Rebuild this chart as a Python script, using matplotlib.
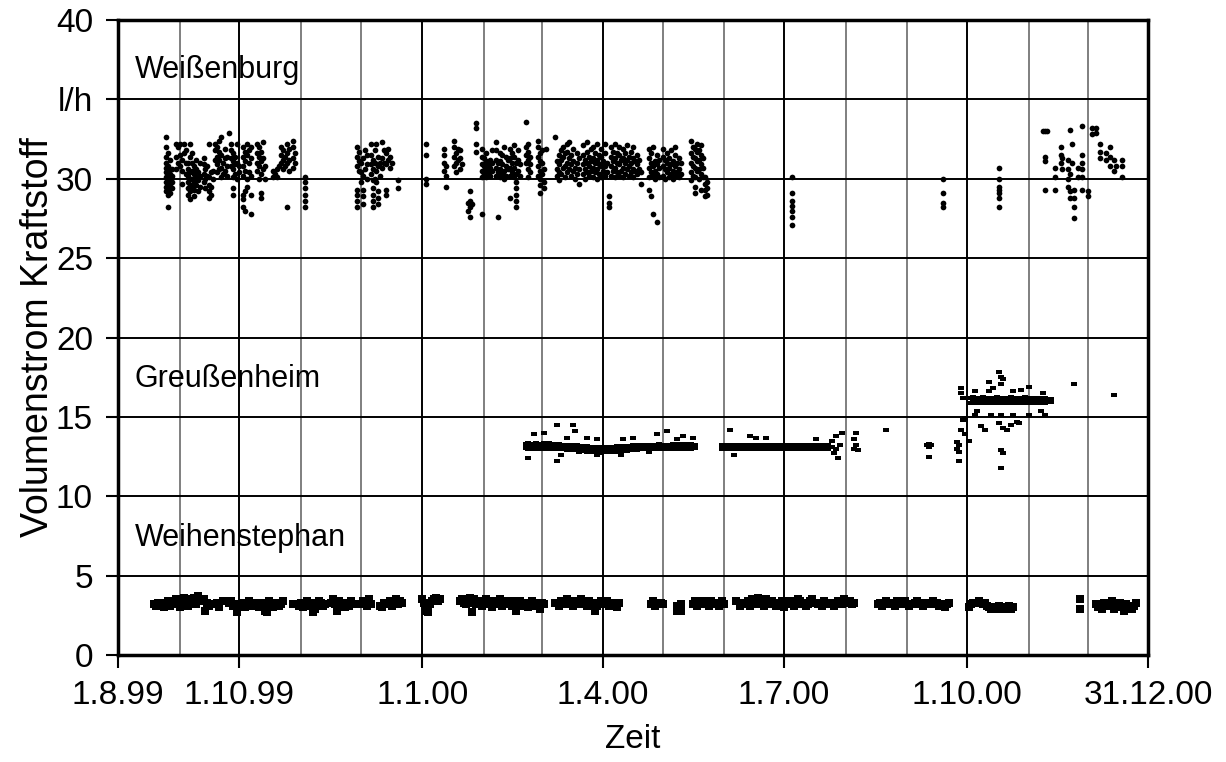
import numpy as np
import matplotlib
matplotlib.use("Agg")
import matplotlib.pyplot as plt

plt.rcParams['font.family'] = ['Liberation Sans', 'DejaVu Sans']

START = np.datetime64('1999-08-01')

# Weißenburg: (days since 1.8.99, fuel flow readings in l/h)
weissenburg_cols = [
    (24, [29.2, 29.5, 29.8, 30.1, 30.4, 30.7, 31.0, 31.4, 32.0, 32.6]),
    (25, [28.2, 29.0, 29.3, 29.6, 29.9, 30.2, 30.5, 30.8, 31.6]),
    (26, [29.1, 29.4, 29.7, 30.0, 30.3, 30.6, 31.2]),
    (27, [29.4, 29.8, 30.2, 30.6]),
    (29, [30.6, 31.4, 32.2]), (30, [31.0, 32.0]), (31, [30.8, 31.5, 32.2]),
    (32, [29.7, 30.5, 31.2]), (33, [31.6, 32.2]), (34, [30.3, 31.0, 31.8]),
    (35, [29.0, 29.4, 29.8, 30.2, 30.6, 31.0]),
    (36, [28.7, 29.2, 29.6, 30.0, 30.4, 31.4, 32.2]),
    (37, [29.5, 30.0, 30.5, 31.0, 31.6]), (38, [28.9, 29.3, 29.8, 30.3, 30.8]),
    (39, [29.6, 30.1, 30.6, 31.2]), (40, [29.2, 29.9, 30.4]), (41, [29.5, 30.2, 31.0]),
    (43, [29.8, 30.3, 30.9, 31.3]), (44, [29.4, 30.0, 30.6]), (45, [30.2, 30.8]),
    (46, [28.8, 29.2, 29.6, 30.1, 32.2]), (47, [29.0, 29.5, 30.4]), (48, [30.0, 30.5]),
    (49, [31.2, 31.8, 32.2]), (50, [30.4, 30.9, 31.4, 32.0]), (51, [30.6, 31.2, 31.7, 32.4]),
    (52, [30.1, 30.7, 31.5, 32.6]), (53, [30.3, 31.0]), (54, [30.5, 31.3, 31.9]),
    (55, [30.2, 30.8, 31.4]), (56, [32.9]),
    (57, [30.8, 31.3, 31.8, 32.2]), (58, [29.0, 29.4, 30.1, 30.6, 31.1, 31.6]),
    (59, [30.3, 30.9, 31.4]), (60, [30.0, 31.0, 32.2]), (61, [30.4, 30.8]),
    (63, [28.2, 28.7, 29.0, 30.2, 30.8, 31.4, 32.0]), (64, [28.0, 29.2, 30.5, 31.1, 31.7]),
    (65, [29.5, 30.0, 31.5, 32.2]), (66, [30.4, 31.0, 31.8]), (67, [27.8, 29.0, 30.2, 31.3, 32.0]),
    (70, [30.5, 31.0, 31.6, 32.2]), (71, [30.0, 30.8, 31.4, 32.0]),
    (72, [28.8, 29.1, 30.3, 31.1, 31.7]), (73, [30.6, 31.3, 32.3]), (74, [30.0, 30.8]),
    (78, [30.1, 30.5]), (79, [30.3]), (80, [30.1, 30.6]), (81, [30.8]),
    (82, [31.0, 31.5, 32.0]), (83, [30.6, 31.2, 31.8]), (84, [30.8, 31.4]),
    (85, [28.2, 31.0, 31.6, 32.2]), (86, [30.5, 31.2, 31.9]),
    (88, [30.7, 31.3, 32.0, 32.4]), (89, [31.0, 31.6]),
    (94, [28.2, 28.6, 29.0, 29.4, 29.8, 30.1]),
    (120, [28.2, 28.6, 29.0, 29.3, 30.8, 31.4, 32.0]), (121, [30.5, 31.1, 31.7]),
    (122, [29.8, 30.4, 31.0]), (123, [28.4, 28.9, 29.3, 30.2, 31.3]), (124, [30.6, 31.8]),
    (125, [30.0, 30.9, 31.5]),
    (127, [30.3, 30.9, 31.5, 32.2]), (128, [28.2, 28.6, 29.0, 29.4, 29.9, 30.6, 31.2]),
    (129, [30.0, 31.0, 31.8]), (130, [29.8, 30.5, 32.2]), (131, [28.4, 28.8, 29.2, 30.8, 31.4]),
    (132, [30.2, 31.0]),
    (133, [30.7, 31.3, 32.3]), (134, [31.0, 31.8]), (135, [29.0, 29.3, 30.9, 31.6]),
    (136, [31.2, 31.9]), (137, [30.7, 31.4]), (138, [31.0]), (141, [29.4, 29.9]),
    (155, [29.7, 30.0, 31.5, 32.2]),
    (164, [30.5, 31.0, 31.5, 31.9]), (165, [29.5, 30.2, 30.8]),
    (169, [30.8, 31.4, 32.0, 32.4]), (170, [30.4, 31.0, 31.6]), (171, [31.2, 31.9]),
    (172, [30.6, 31.3, 31.8]), (173, [30.9]),
    (176, [28.0, 28.5]), (177, [27.6, 28.2, 28.6, 29.2]), (178, [28.4]),
    (180, [31.7, 32.2, 33.2, 33.5]),
    (183, [27.8, 30.1, 30.5, 30.9, 31.4, 31.9]), (184, [30.3, 30.8, 31.3]),
    (185, [30.1, 30.6, 31.1, 31.6]), (186, [30.4, 30.9]), (187, [30.2, 30.7, 31.2]),
    (188, [30.5, 31.0, 31.8]),
    (190, [30.2, 30.7, 31.2, 31.8, 32.3]), (191, [27.6, 30.4, 31.0]),
    (192, [30.1, 30.6, 31.1, 31.6]), (193, [30.3, 30.9, 31.5]), (194, [30.0, 30.5, 32.0]),
    (195, [30.2, 30.8, 31.4]), (196, [30.6, 31.2]),
    (197, [28.8, 30.2, 30.7, 31.3, 31.9]), (198, [30.4, 31.0, 31.6]),
    (199, [30.1, 30.7, 31.4, 32.1]), (200, [28.2, 28.6, 29.0, 29.4, 29.8, 30.3, 31.0]),
    (201, [30.5, 31.2, 31.8]), (202, [30.2, 30.9]),
    (205, [31.0, 31.5, 32.0, 33.6]), (206, [30.1, 30.6, 31.2, 31.7, 32.2]),
    (207, [30.4, 30.9, 31.4]),
    (211, [30.2, 30.8, 31.4, 32.0, 32.4]), (212, [29.1, 29.6, 30.0, 30.5, 31.1, 31.6]),
    (213, [30.3, 31.0, 31.8]), (214, [29.4, 29.8, 30.6]), (215, [31.9]), (220, [32.6]),
    (221, [30.2, 30.6, 31.1]), (222, [29.9, 30.4, 30.9, 31.5]), (223, [30.3, 31.2, 31.8]),
    (224, [30.7, 31.4, 32.0]), (225, [30.1, 30.8, 31.6]), (226, [30.4, 31.0, 31.7, 32.2]),
    (227, [30.6, 31.3, 32.3]), (228, [30.2, 30.9, 31.5]), (229, [30.5, 31.1, 31.9]),
    (230, [30.0, 30.7]), (231, [30.3, 31.0, 31.6]), (232, [29.7, 30.6, 31.3]),
    (234, [30.3, 30.9, 31.5, 32.1]), (235, [30.0, 30.6, 31.2]), (236, [30.4, 31.0, 31.7, 32.3]),
    (237, [30.2, 30.8, 31.4]), (238, [30.5, 31.1, 31.9]), (239, [30.1, 30.7, 31.3, 32.0]),
    (240, [30.4, 31.0, 31.6]), (241, [30.0, 30.6, 31.2, 32.2]), (242, [30.3, 30.9, 31.5]),
    (243, [30.1, 30.8, 31.4, 31.9]), (244, [30.5, 31.1]), (245, [30.2, 30.8, 31.6, 32.2]),
    (246, [30.4, 31.0]), (247, [28.2, 28.5, 28.9]),
    (248, [30.2, 30.8, 31.4, 32.0]), (249, [30.5, 31.1, 31.7]), (250, [30.1, 30.7, 31.3, 32.2]),
    (251, [30.4, 31.0, 31.6]), (252, [30.2, 30.9, 31.5, 32.0]), (253, [30.5, 31.2]),
    (254, [30.1, 30.7, 31.3, 31.9]), (255, [30.3, 31.0, 31.6]), (256, [30.6, 31.2, 32.1]),
    (257, [30.2, 30.8, 31.4]), (258, [30.4, 31.0, 31.7]), (259, [30.1, 30.6, 31.3, 32.0]),
    (260, [30.5, 31.1]), (261, [30.3, 30.9, 31.5]), (262, [30.6, 31.2]), (263, [29.7, 30.4]),
    (267, [29.3, 30.1, 30.7, 31.3, 31.9]), (268, [28.9, 30.4, 31.0, 31.6]),
    (269, [27.8, 30.2, 30.8, 32.0]), (270, [30.0, 30.5, 31.1]), (271, [27.3, 30.3, 30.9, 31.5]),
    (272, [30.1, 30.7, 31.2]),
    (274, [30.2, 30.8, 31.4, 31.9]), (275, [30.0, 30.6, 31.2]), (276, [30.4, 31.0, 31.6]),
    (277, [30.1, 30.7, 31.3]), (278, [30.3, 30.9, 31.8]), (279, [30.0, 30.5, 31.1]),
    (280, [30.2, 30.8, 31.5, 32.0]), (281, [30.4, 31.0]), (282, [30.1, 30.6, 31.3]),
    (283, [30.3, 31.0]),
    (288, [29.9, 30.4, 31.0, 31.6, 32.4]), (289, [30.2, 30.8, 31.4, 32.0]),
    (290, [29.1, 29.5, 30.1, 30.7, 31.3, 31.9]), (291, [30.5, 31.1, 31.7, 32.2]),
    (292, [30.0, 30.6, 31.2, 31.8]), (293, [29.3, 30.3, 30.9, 31.5, 32.1]),
    (294, [30.1, 30.7, 31.3]), (295, [28.9, 29.3, 29.7, 30.1]), (296, [29.0, 29.4, 29.8]),
    (339, [27.1, 27.6, 28.0, 28.3, 28.6, 29.1, 30.1]),
    (415, [28.2, 28.5, 29.1, 30.0]),
    (443, [28.2, 28.8, 29.1, 29.3, 29.5, 30.0, 30.7]),
    (465, [33.0]), (466, [33.0, 31.4, 31.1, 29.3]), (467, [33.0]),
    (471, [30.7, 30.1, 29.3]), (474, [32.0, 31.5, 31.0]), (475, [30.6, 31.3]),
    (478, [31.2, 30.6, 30.0, 29.5]), (479, [33.1, 30.3, 29.2, 28.8]), (480, [32.2, 31.0]),
    (481, [29.3, 28.8, 28.2, 27.5]), (483, [30.7, 30.1]),
    (485, [33.3, 31.5, 31.0, 30.6, 30.1, 29.3]), (488, [29.2, 28.9]),
    (490, [33.2, 32.8]), (492, [33.2, 32.9]), (494, [32.2, 31.7, 31.3]),
    (497, [31.6, 31.2]), (499, [32.0, 31.4, 30.8]), (501, [31.2, 30.5]), (502, [30.8]),
    (505, [31.2, 30.8, 30.1]),
]

# Greußenheim: daily upper / lower readings of the dense band, plus single readings
greussenheim_upper = [
    (205, [13.3, 13.35, 13.3, 13.25, 13.3, 13.35, 13.3, 13.25, 13.3, 13.35,
           13.25, 13.3, 13.35, 13.3, 13.25, 13.3, 13.25, 13.3, 13.25, 13.2,
           13.25, 13.2, 13.15, 13.2, 13.2, 13.15, 13.2, 13.15, 13.1, 13.15,
           13.1, 13.15, 13.05, 13.1, 13.1, 13.05, 13.05, 13.1, 13.05, 13.05,
           13.1, 13.05, 13.1, 13.1, 13.05, 13.1, 13.15, 13.1, 13.1, 13.15,
           13.1, 13.15, 13.1, 13.15, 13.2, 13.15, 13.2, 13.2, 13.25, 13.2,
           13.2, 13.25, 13.2, 13.2, 13.25, 13.2, 13.25, 13.3, 13.2, 13.25,
           13.25, 13.2, 13.25, 13.25, 13.3, 13.25, 13.3, 13.2, 13.25, 13.3,
           13.25, 13.3, 13.25, 13.3, 13.25, 13.2]),
    (304, [13.2, 13.15, 13.2, 13.2, 13.15, 13.25, 13.2, 13.15, 13.2, 13.2,
           13.15, 13.2, 13.25, 13.2, 13.15, 13.2, 13.2, 13.15, 13.2, 13.15,
           13.2, 13.15, 13.2, 13.2, 13.15, 13.2, None, 13.2, 13.25, 13.2,
           13.15, 13.2, 13.2, 13.15, 13.2, 13.25, 13.2, 13.15, 13.2, 13.2,
           13.25, 13.2, 13.15, 13.2, 13.25, 13.2, 13.2, 13.15, 13.2, 13.25,
           13.2, 13.15, 13.2, 13.2]),
    (429, [16.2, 16.25, 16.2, 16.2, 16.15, 16.2, 16.25, 16.2, 16.15, 16.2,
           16.2, 16.15, 16.2, 16.25, 16.2, 16.15, 16.2, 16.2, 16.15, 16.2,
           16.25, 16.2, 16.15, 16.2, 16.2, 16.15, 16.2, 16.25, 16.2, 16.15,
           16.2, 16.15, 16.2, 16.2, 16.15, 16.2, 16.15, 16.2, 16.15, 16.1,
           16.1]),
]
greussenheim_lower = [
    (205, [13.05, 13.0, 13.05, 13.1, 13.0, 13.05, 13.0, 13.05, 12.95, 13.05,
           13.0, 13.05, 13.0, 12.95, 13.05, 13.0, 13.0, 12.95, 13.0, 12.95,
           12.95, 12.9, 12.95, 12.9, 12.95, 12.9, 12.9, 12.95, 12.85, 12.85,
           12.85, 12.8, 12.85, 12.8, 12.8, 12.85, 12.8, 12.8, 12.75, 12.85,
           12.8, 12.85, 12.8, 12.85, 12.85, 12.8, 12.85, 12.9, 12.85, 12.85,
           12.9, 12.85, 12.9, 12.9, 12.95, 12.9, 12.9, 12.95, 12.95, 13.0,
           12.95, 13.0, 12.95, 12.95, 13.0, 12.95, 13.0, 12.95, 13.0, 13.0,
           12.95, 13.0, 13.0, 12.95, 13.05, 13.05, 13.0, 12.95, 13.0, 13.05,
           13.05, 13.0, 12.95, 13.0, 13.05, 13.05]),
    (304, [12.95, 13.0, 12.95, 13.0, 12.95, 13.0, 13.0, 12.95, 13.0, 12.95,
           13.0, 12.95, 13.0, 13.0, 12.95, 13.0, 12.95, 13.0, 13.0, 12.95,
           13.0, 12.95, 13.0, 12.95, 13.0, 13.0, None, 13.0, 12.95, 13.0,
           13.0, 12.95, 13.0, 13.0, 12.95, 13.0, 12.95, 13.0, 13.0, 12.95,
           13.0, 13.0, 12.95, 13.0, 12.95, 13.0, 13.0, 12.95, 13.0, 13.0,
           12.95, 13.0, 13.0, 12.95]),
    (429, [15.9, 15.95, 15.9, 15.95, 15.95, 15.9, 15.95, 15.9, 15.95, 15.95,
           15.9, 15.95, 15.95, 15.9, 15.95, 15.9, 15.95, 15.95, 15.9, 15.95,
           15.95, 15.9, 15.95, 15.9, 15.95, 15.95, 15.9, 15.95, 15.9, 15.95,
           15.95, 15.9, 15.95, 15.9, 15.95, 15.9, 15.95, 15.9, 15.95, 15.95,
           15.95]),
]
greussenheim_single = [
    (206, 12.4), (209, 13.9), (214, 14.0), (221, 14.5), (229, 14.5), (230, 14.1),
    (221, 12.2), (223, 12.6), (226, 13.7), (232, 12.8), (236, 13.7), (241, 13.6),
    (241, 12.6), (254, 13.6), (259, 13.7), (253, 12.6), (267, 12.8), (271, 13.9),
    (276, 14.1), (281, 13.6), (284, 13.8), (289, 13.7),
    (308, 14.2), (310, 12.6), (318, 13.8), (321, 13.7), (326, 13.7), (351, 13.6),
    (359, 13.5), (359, 13.1), (360, 12.7), (361, 13.8), (361, 13.0), (362, 12.4),
    (363, 13.2), (364, 14.0), (370, 13.6), (370, 13.0), (371, 14.0), (371, 13.2),
    (372, 12.9), (386, 14.2),
    (407, 13.2), (408, 13.1), (408, 13.3), (409, 13.2), (408, 12.5),
    (422, 13.4), (422, 13.0), (423, 13.2), (423, 12.8), (423, 12.2), (424, 14.2),
    (424, 16.8), (424, 16.5), (425, 16.2), (425, 14.8), (426, 14.9), (426, 13.9),
    (428, 13.5),
    (443, 17.8), (444, 17.5), (444, 17.1), (445, 17.4), (438, 17.2), (440, 16.8),
    (431, 16.6), (438, 16.6), (450, 16.6), (454, 16.7), (458, 16.9), (465, 16.5),
    (432, 15.4), (431, 15.1), (439, 15.1), (444, 15.1), (450, 15.1),
    (434, 14.4), (436, 14.2), (443, 14.6), (445, 14.3), (447, 14.2), (449, 14.5),
    (452, 14.7), (453, 14.6), (444, 12.9), (445, 12.7), (444, 11.8),
    (466, 15.1), (464, 15.4), (458, 15.1), (481, 17.1), (501, 16.4),
]

# Weihenstephan: daily readings per measuring period (None = no reading)
weihenstephan_runs = [
    (18, [3.2, 3.1, 3.3, None, 3.2, 3.0, 3.3, 3.4, 3.1, None, 3.2, 3.5, 3.3, 3.0,
          3.2, 3.6, 3.4, 3.1, 3.3, 3.5, 3.6, 3.2, None, None, 3.4, 3.5, None, 3.3,
          3.1, None, None, 3.2, 3.3, 3.0, None, 3.4]),
    (56, [3.3, 3.4, 3.1, 3.2, 2.9]),
    (62, [3.1, 3.3, 3.0, 3.2, 3.4, 3.1, None, 3.3, 3.2, 3.0, 3.1, 3.3, 2.8, 3.2,
          3.4, 3.1, 3.0, 3.2, 3.3, 3.1, 3.2, 3.4]),
    (88, [3.2, None, None, 3.1, 3.3, 3.0, 3.2, 3.4, 3.1, 3.2, 3.3, 2.9, 3.2, 3.4,
          3.3, 3.1, 3.2, None, None, 3.3, 3.5, 3.2, 3.1, 3.4, None, 3.3, 3.0, 3.2,
          3.1, 3.4, 3.2]),
    (122, [3.2, 3.4, 3.3, 3.1, 3.5, 3.2]),
    (132, [3.1, 3.0, 3.3, None, 3.2, 3.4, 3.1, 3.3, 3.5, 3.2, 3.4, 3.3]),
    (153, [3.5, 3.3, 3.0, 2.7, 3.2, 3.4, 3.5, 3.6, 3.4, 3.5]),
    (172, [3.4, 3.5, 3.3, 3.2, 3.4, 3.6, 3.3, 3.5, 3.2, 3.4, 3.3, 3.1, 3.4, 3.5,
           3.2, 3.3, 3.0, 3.4, 3.2, 3.3, 3.5, 3.1, 3.3, 3.4, 3.2, 3.3, 3.1, 3.4,
           3.2, 3.3, 3.4, 3.2, 3.1, 3.3, 3.0, 3.2, 3.4, 3.1, 3.3, 3.2, 2.9, 3.3, 3.2]),
    (220, [3.3, None, 3.1, 3.4, 3.2, 3.3, 3.5, 3.2, 3.4, 3.1, 3.3, 3.2, 3.4, 3.5,
           3.3, 3.2, 3.1, 3.4, 3.3, 3.2, 3.3, 3.1, None, 3.4, 3.3, 3.2, 3.4, 3.1,
           3.3, None, 3.2, 3.0, 3.3]),
    (268, [3.2, 3.4, 3.1, None, None, 3.3, 3.2]),
    (281, [3.1]),
    (289, [3.2, 3.4, 3.1, 3.3, None, 3.4, 3.2, 3.3, 3.1, 3.4, 3.2, 3.3, None, 3.1,
           3.3, 3.4, 3.2]),
    (311, [3.4, None, 3.1, 3.3, None, 3.2, 3.4, 3.1, 3.5, 3.3, 3.2, 3.6, 3.4, 3.3,
           3.1, 3.5, 3.2, 3.3, 3.4, 3.2, 3.1, 3.3, 3.2, 3.4, 3.0, 3.2, 3.3, 3.4,
           3.2, 3.1, 3.3, 3.5, 3.4, 3.2, 3.3, 3.1, 3.2, 3.4, 3.5, 3.3]),
    (352, [3.2, 3.3, 3.1, 3.4, None, 3.2, 3.3, None, 3.1, 3.2, 3.4, 3.3, 3.2, 3.5,
           3.3, None, 3.4, 3.2, 3.3]),
    (382, [3.2, 3.3, 3.1, None, 3.4, 3.2, 3.3, None, 3.3, 3.1, 3.4, 3.2, None, 3.3,
           3.4, 3.2, 3.1, None, 3.2, 3.3, 3.4, 3.2, None, 3.1, 3.3, 3.2, None, None,
           3.4, 3.2, 3.3, 3.1, None, 3.2, 3.0, 3.2, 3.3]),
    (428, [3.0, 3.2, 3.3, None, None, 3.4, 3.3, 3.2, 3.3, 3.1, 3.0, 2.9, 3.0, 2.9,
           3.0, 3.1, 2.9, 3.0, 2.9, 3.0, 3.1, 2.9, 3.0]),
    (492, [3.2, 3.0, None, 2.9, 3.3, 3.1, None, 3.2, 3.4, 2.9, 3.0, None, 3.3, 3.1,
           2.8, 3.2, None, 3.0, 2.9, 3.1, 3.3]),
]
weihenstephan_single = [
    (40, 3.7), (44, 2.8), (60, 2.7), (75, 2.7), (98, 2.7), (110, 2.8), (155, 2.8),
    (178, 2.7), (200, 2.8), (240, 2.8), (484, 3.5), (484, 2.9), (281, 2.8),
    (283, 3.2), (283, 2.8),
]

site_names = ['Weißenburg', 'Greußenheim', 'Weihenstephan']
x_tick_dates = ['1999-08-01', '1999-10-01', '2000-01-01', '2000-04-01',
                '2000-07-01', '2000-10-01', '2000-12-31']
x_tick_labels = ['1.8.99', '1.10.99', '1.1.00', '1.4.00', '1.7.00', '1.10.00', '31.12.00']
y_ticks = [0, 5, 10, 15, 20, 25, 30, 35, 40]
y_tick_labels = ['0', '5', '10', '15', '20', '25', '30', 'l/h', '40']


def from_columns(cols):
    d, v = [], []
    for day, vals in cols:
        for val in vals:
            d.append(day)
            v.append(val)
    return d, v


def from_runs(runs):
    d, v = [], []
    for start, vals in runs:
        for i, val in enumerate(vals):
            if val is not None:
                d.append(start + i)
                v.append(val)
    return d, v


def to_dates(days):
    return START + np.array(days, dtype='timedelta64[D]')


fig = plt.figure(figsize=(12.26, 7.62), dpi=100)
ax = fig.add_axes([118 / 1226, 107 / 762, 1030 / 1226, 635 / 762])

# Weißenburg: round dots
wd, wv = from_columns(weissenburg_cols)
ax.plot(to_dates(wd), wv, ls='none', marker='o', ms=4.1, mew=0, color='black', zorder=3)

# Greußenheim: flat dash markers
flat = [(-1, -0.62), (1, -0.62), (1, 0.62), (-1, 0.62), (-1, -0.62)]
gd, gv = from_runs(greussenheim_upper)
gd2, gv2 = from_runs(greussenheim_lower)
gd3 = [p[0] for p in greussenheim_single]
gv3 = [p[1] for p in greussenheim_single]
ax.plot(to_dates(gd + gd2 + gd3), gv + gv2 + gv3, ls='none', marker=flat, ms=4.8,
        mew=0, color='black', zorder=3)

# Weihenstephan: squares
hd, hv = from_runs(weihenstephan_runs)
hd += [p[0] for p in weihenstephan_single]
hv += [p[1] for p in weihenstephan_single]
ax.plot(to_dates(hd), hv, ls='none', marker='s', ms=5.4, mew=0, color='black', zorder=3)

# axes limits and ticks
ax.set_xlim(np.datetime64('1999-08-01'), np.datetime64('2000-12-31'))
ax.set_ylim(0, 40)
ax.set_xticks(np.array(x_tick_dates, dtype='datetime64[D]'))
ax.set_xticklabels(x_tick_labels)
months = np.arange(np.datetime64('1999-09'), np.datetime64('2001-01'), dtype='datetime64[M]')
months = months.astype('datetime64[D]')
ax.set_xticks(months, minor=True)
ax.set_yticks(y_ticks)
ax.set_yticklabels(y_tick_labels)

ax.tick_params(axis='both', which='major', direction='out', length=9, width=1.5,
               labelsize=24, pad=9, color='black')
ax.tick_params(axis='x', which='minor', length=0)

ax.grid(True, which='major', axis='both', color='black', lw=1.4, zorder=1)
ax.grid(True, which='minor', axis='x', color='#7f7f7f', lw=1.4, zorder=1)
ax.set_axisbelow(True)

for s in ax.spines.values():
    s.set_linewidth(2.5)
    s.set_color('black')

ax.set_xlabel('Zeit', fontsize=24, labelpad=9)
ax.set_ylabel('Volumenstrom Kraftstoff', fontsize=27, labelpad=0)

label_y = [0.921, 0.434, 0.185]
for name, yy in zip(site_names, label_y):
    ax.text(0.016, yy, name, transform=ax.transAxes, fontsize=22, va='center',
            ha='left', zorder=4)

fig.savefig('out.png', dpi=100)
